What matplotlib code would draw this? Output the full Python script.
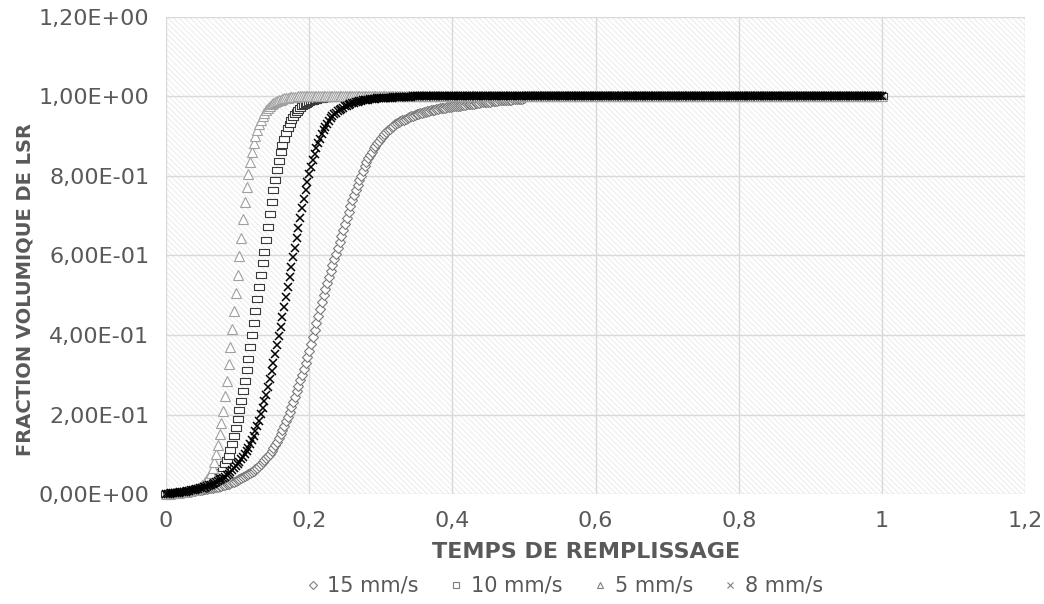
import numpy as np
import matplotlib
matplotlib.use("Agg")
import matplotlib.pyplot as plt
from matplotlib.patches import Rectangle
from matplotlib.ticker import FuncFormatter

# time grid (s) and fraction volumique, step 0.0025
t = np.round(np.arange(0, 1.00001, 0.0025), 4)

frac_15 = [
    0.0, 0.0, 0.001, 0.001, 0.001, 0.002, 0.002, 0.002, 0.003, 0.003,
    0.004, 0.004, 0.005, 0.006, 0.006, 0.007, 0.008, 0.009, 0.009, 0.010,
    0.011, 0.012, 0.013, 0.014, 0.015, 0.016, 0.016, 0.017, 0.018, 0.019,
    0.020, 0.021, 0.022, 0.023, 0.025, 0.026, 0.028, 0.030, 0.031, 0.033,
    0.035, 0.037, 0.040, 0.042, 0.045, 0.047, 0.050, 0.052, 0.055, 0.059,
    0.062, 0.066, 0.070, 0.075, 0.080, 0.085, 0.090, 0.096, 0.102, 0.108,
    0.115, 0.123, 0.132, 0.141, 0.150, 0.161, 0.172, 0.183, 0.195, 0.207,
    0.220, 0.232, 0.245, 0.259, 0.272, 0.286, 0.300, 0.315, 0.330, 0.345,
    0.360, 0.378, 0.395, 0.412, 0.430, 0.448, 0.465, 0.483, 0.500, 0.515,
    0.530, 0.545, 0.560, 0.575, 0.590, 0.605, 0.620, 0.635, 0.650, 0.665,
    0.680, 0.695, 0.710, 0.725, 0.740, 0.753, 0.765, 0.778, 0.790, 0.801,
    0.812, 0.824, 0.835, 0.844, 0.853, 0.861, 0.870, 0.876, 0.883, 0.889,
    0.895, 0.900, 0.905, 0.910, 0.915, 0.919, 0.923, 0.926, 0.930, 0.932,
    0.935, 0.937, 0.940, 0.942, 0.944, 0.946, 0.948, 0.950, 0.952, 0.953,
    0.955, 0.956, 0.958, 0.959, 0.960, 0.961, 0.963, 0.964, 0.965, 0.966,
    0.967, 0.968, 0.969, 0.970, 0.971, 0.971, 0.972, 0.973, 0.974, 0.974,
    0.975, 0.976, 0.976, 0.977, 0.977, 0.978, 0.979, 0.979, 0.980, 0.981,
    0.981, 0.982, 0.982, 0.983, 0.984, 0.984, 0.985, 0.985, 0.986, 0.986,
    0.987, 0.987, 0.988, 0.988, 0.989, 0.989, 0.990, 0.990, 0.990, 0.991,
    0.991, 0.991, 0.992, 0.992, 0.993, 0.993, 0.993, 0.994, 0.994, 0.994,
    0.995,
]

frac_10 = [
    0.0, 0.001, 0.001, 0.002, 0.002, 0.003, 0.003, 0.004, 0.004, 0.005,
    0.005, 0.006, 0.006, 0.007, 0.008, 0.008, 0.009, 0.010, 0.011, 0.012,
    0.014, 0.016, 0.018, 0.020, 0.022, 0.025, 0.028, 0.031, 0.035, 0.041,
    0.048, 0.056, 0.065, 0.075, 0.085, 0.097, 0.110, 0.127, 0.145, 0.167,
    0.190, 0.212, 0.235, 0.260, 0.285, 0.312, 0.340, 0.370, 0.400, 0.430,
    0.460, 0.490, 0.520, 0.550, 0.580, 0.610, 0.640, 0.672, 0.705, 0.735,
    0.765, 0.790, 0.815, 0.838, 0.860, 0.877, 0.893, 0.907, 0.920, 0.930,
    0.940, 0.948, 0.955, 0.961, 0.966, 0.971, 0.975, 0.978, 0.981, 0.984,
    0.986, 0.988, 0.989, 0.991, 0.992, 0.993, 0.994, 0.994, 0.995, 0.996,
    0.996, 0.997, 0.997, 0.998, 0.998, 0.999, 0.999, 0.999, 0.999, 1.0,
]

frac_5 = [
    0.0, 0.001, 0.001, 0.002, 0.002, 0.002, 0.003, 0.003, 0.004, 0.004,
    0.005, 0.006, 0.007, 0.008, 0.009, 0.010, 0.012, 0.014, 0.016, 0.019,
    0.022, 0.026, 0.031, 0.037, 0.045, 0.054, 0.065, 0.080, 0.100, 0.124,
    0.150, 0.178, 0.210, 0.246, 0.285, 0.327, 0.370, 0.415, 0.460, 0.505,
    0.550, 0.598, 0.645, 0.692, 0.735, 0.772, 0.805, 0.834, 0.860, 0.882,
    0.900, 0.916, 0.930, 0.941, 0.950, 0.958, 0.965, 0.971, 0.976, 0.980,
    0.983, 0.986, 0.988, 0.990, 0.992, 0.993, 0.995, 0.996, 0.997, 0.998,
    0.998, 0.999, 0.999, 0.999, 1.0,
]

frac_8 = [
    0.0, 0.001, 0.001, 0.002, 0.002, 0.002, 0.003, 0.003, 0.004, 0.005,
    0.005, 0.006, 0.007, 0.008, 0.009, 0.010, 0.011, 0.012, 0.014, 0.015,
    0.016, 0.017, 0.019, 0.020, 0.022, 0.024, 0.026, 0.028, 0.030, 0.032,
    0.035, 0.037, 0.040, 0.043, 0.047, 0.051, 0.055, 0.060, 0.065, 0.070,
    0.075, 0.081, 0.087, 0.093, 0.100, 0.108, 0.116, 0.125, 0.135, 0.147,
    0.159, 0.172, 0.185, 0.201, 0.217, 0.233, 0.250, 0.270, 0.290, 0.310,
    0.330, 0.352, 0.375, 0.397, 0.420, 0.445, 0.470, 0.495, 0.520, 0.545,
    0.570, 0.595, 0.620, 0.645, 0.670, 0.695, 0.720, 0.742, 0.764, 0.785,
    0.805, 0.822, 0.839, 0.855, 0.870, 0.882, 0.894, 0.905, 0.915, 0.923,
    0.931, 0.938, 0.945, 0.950, 0.955, 0.959, 0.963, 0.966, 0.969, 0.972,
    0.975, 0.977, 0.979, 0.981, 0.983, 0.984, 0.985, 0.987, 0.988, 0.989,
    0.990, 0.991, 0.992, 0.992, 0.993, 0.993, 0.994, 0.994, 0.995, 0.995,
    0.996, 0.996, 0.996, 0.997, 0.997, 0.997, 0.997, 0.998, 0.998, 0.998,
    0.998, 0.998, 0.999, 0.999, 0.999, 0.999, 0.999, 0.999, 1.0,
]

# plateau read on the chart once each front has passed
plateau = 1.0


def full(vals):
    return vals + [plateau] * (len(t) - len(vals))


# flat rectangle, the "square" marker looks wider than tall on the chart
rect = [(-1, -0.62), (1, -0.62), (1, 0.62), (-1, 0.62), (-1, -0.62)]

labels = ["15 mm/s", "10 mm/s", "5 mm/s", "8 mm/s"]
series = [full(frac_15), full(frac_10), full(frac_5), full(frac_8)]
markers = ["D", rect, "^", "x"]
leg_markers = ["D", "s", "^", "x"]
edges = ["#7a7a7a", "#3a3a3a", "#a0a0a0", "#000000"]
sizes = [4.8, 6.5, 6.5, 5.5]
widths = [0.8, 0.8, 0.8, 1.1]

plt.rcParams["font.family"] = ["DejaVu Sans"]
plt.rcParams["hatch.linewidth"] = 0.6

fig = plt.figure(figsize=(10.44, 6.04), dpi=100)
ax = fig.add_axes([0.159, 0.182, 0.823, 0.790])

ax.add_patch(Rectangle((0, 0), 1, 1, transform=ax.transAxes, fill=False,
                       hatch="\\\\\\\\\\\\", edgecolor="#e8e8e8", lw=0, zorder=0.1))
ax.set_axisbelow(True)
ax.grid(True, color="#d9d9d9", lw=1.0)

for y, lab, m, ec, ms, mw in zip(series, labels, markers, edges, sizes, widths):
    ax.plot(t, y, linestyle="none", marker=m, ms=ms, mec=ec,
            mfc=ec if lab == "8 mm/s" else "white", mew=mw, label=lab,
            clip_on=False, zorder=3)

ax.set_xlim(0, 1.2)
ax.set_ylim(0, 1.2)
ax.set_xticks(np.arange(0, 1.21, 0.2))
ax.set_yticks(np.arange(0, 1.21, 0.2))
ax.xaxis.set_major_formatter(FuncFormatter(lambda v, p: f"{v:.1f}".rstrip("0").rstrip(".").replace(".", ",")))
ax.yaxis.set_major_formatter(FuncFormatter(lambda v, p: f"{v:.2E}".replace(".", ",")))
ax.tick_params(length=0, labelsize=16, colors="#595959", pad=12)
for s in ax.spines.values():
    s.set_visible(False)

fig.text(0.024, 0.52, "FRACTION VOLUMIQUE DE LSR", rotation=90, ha="center",
         va="center", fontsize=14, fontweight="bold", color="#595959")
fig.text(0.561, 0.086, "TEMPS DE REMPLISSAGE", ha="center", va="center",
         fontsize=16, fontweight="bold", color="#595959")

leg_handles = []
for lab, m in zip(labels, leg_markers):
    h, = ax.plot([], [], linestyle="none", marker=m, ms=4.5, mec="#7f7f7f",
                 mfc="#7f7f7f" if m == "x" else "white", mew=0.8, label=lab)
    leg_handles.append(h)
leg = fig.legend(handles=leg_handles, loc="center", bbox_to_anchor=(0.54, 0.03),
                 ncol=4, frameon=False, fontsize=15, handletextpad=0.3,
                 columnspacing=1.4, handlelength=0.8)
for txt in leg.get_texts():
    txt.set_color("#595959")

fig.savefig("out.png", dpi=100)
